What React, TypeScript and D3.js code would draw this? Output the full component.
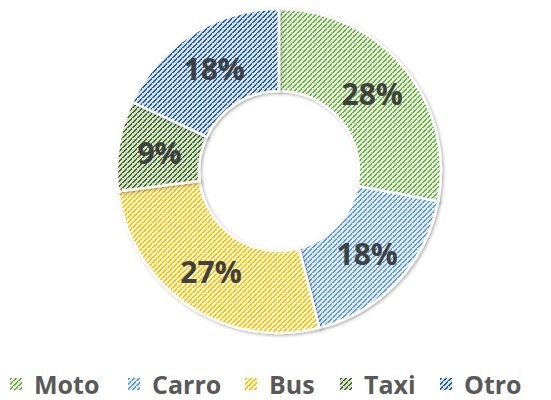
import React from "react";
import * as d3 from "d3";

const categories = ["Moto", "Carro", "Bus", "Taxi", "Otro"];
const values = [28, 18, 27, 9, 18];
const fgColors = ["#70AD47", "#5B9BD5", "#FFC000", "#43682B", "#255E91"];
const bgColors = ["#E2F0D9", "#DEEBF7", "#FFF2CC", "#D5E3CB", "#D3E0F0"];
const legendX = [10, 128, 245, 340, 440];

const W = 551, H = 400;
const cx = 279, cy = 171;
const outerR = 162, innerR = 80;
const P = 5;
const diagPixels = d3.range(P);

export default function App() {
  const pie = d3.pie<number>().sort(null).value((d) => d);
  const arcs = pie(values);
  const arc = d3.arc<d3.PieArcDatum<number>>().innerRadius(innerR).outerRadius(outerR);
  const labelArc = d3.arc<d3.PieArcDatum<number>>().innerRadius((innerR + outerR) / 2).outerRadius((innerR + outerR) / 2);
  const total = d3.sum(values);
  const fmt = (v: number) => `${Math.round((v / total) * 100)}%`;

  return (
    <svg width={W} height={H} style={{ position: "absolute", left: 0, top: 0, background: "#fff" }} shapeRendering="auto">
      <defs>
        {categories.map((c, i) => (
          <pattern key={c} id={`pat${i}`} patternUnits="userSpaceOnUse" x={0} y={0} width={P} height={P}>
            <rect width={P} height={P} fill={bgColors[i]} />
            {diagPixels.map((k) => (
              <rect key={k} x={k} y={P - 1 - k} width={k === 2 ? 1 : 2} height={1} fill={fgColors[i]} shapeRendering="crispEdges" />
            ))}
            <rect x={P - 1 + 1 - P} y={0} width={1} height={1} fill={fgColors[i]} shapeRendering="crispEdges" />
          </pattern>
        ))}
        <filter id="shadow" x="-20%" y="-20%" width="140%" height="140%">
          <feDropShadow dx={1.5} dy={1.5} stdDeviation={1.5} floodColor="#000" floodOpacity={0.3} />
        </filter>
      </defs>
      <g transform={`translate(${cx},${cy})`}>
        {arcs.map((a, i) => (
          <path key={i} d={arc(a) || ""} fill={`url(#pat${i})`} stroke="#fff" strokeWidth={2.5} filter="url(#shadow)" />
        ))}
        {arcs.map((a, i) => {
          const [x, y] = labelArc.centroid(a);
          return (
            <text key={i} x={x} y={y} textAnchor="middle" dominantBaseline="central"
              fontFamily="'Open Sans', 'Liberation Sans', sans-serif" fontWeight="bold" fontSize={30} fill="#404040">
              {fmt(values[i])}
            </text>
          );
        })}
      </g>
      <g>
        {categories.map((c, i) => (
          <g key={c} transform={`translate(${legendX[i]},384)`}>
            <rect x={0} y={-6} width={12} height={12} fill={`url(#pat${i})`} />
            <text x={24} y={0} dominantBaseline="central" fontFamily="'Open Sans', 'Liberation Sans', sans-serif"
              fontWeight="bold" fontSize={25} fill="#595959">{c}</text>
          </g>
        ))}
      </g>
    </svg>
  );
}
